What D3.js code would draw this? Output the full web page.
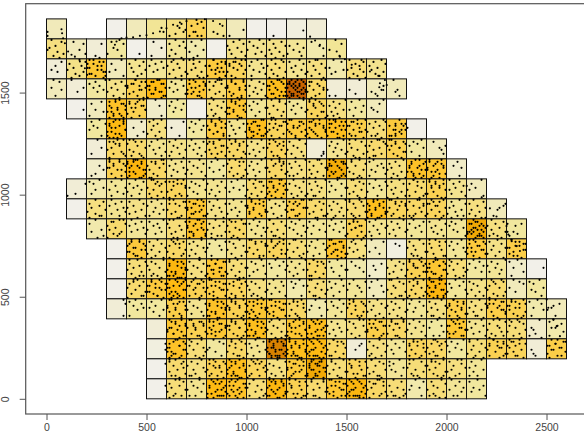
<!DOCTYPE html>
<html>
<head>
<meta charset="utf-8">
<script src="https://cdn.jsdelivr.net/npm/d3@7"></script>
<style>
  html, body { margin: 0; background: #fff; }
  svg { display: block; }
  text { font-family: "Liberation Sans", Arial, sans-serif; font-size: 10.5px; fill: #444; }
</style>
</head>
<body>
<svg id="chart" width="584" height="436"></svg>
<script>
var width = 584, height = 436;

// first column of each row of quadrats, top row first
var rowStart = [0, 0, 0, 0, 1, 2, 2, 2, 1, 1, 2, 3, 3, 3, 3, 5, 5, 5, 5];

// counts per quadrat
var rowCounts = [
  [5, null, null, 1, 5, 8, 11, 16, 9, 5, 1, 1, 2, 3],
  [11, 5, 3, 7, 1, 3, 8, 6, 1, 10, 9, 10, 8, 6, 8],
  [3, 10, 19, 5, 9, 8, 11, 12, 18, 15, 9, 12, 9, 11, 6, 12, 9],
  [5, 3, 7, 10, 16, 22, 8, 19, 13, 18, 10, 21, 36, 14, 3, 3, 5, 5],
  [1, 5, 20, 16, 4, 7, 1, 11, 19, 8, 12, 8, 15, 11, 7, 5],
  [7, 22, 4, 11, 3, 7, 18, 9, 21, 15, 18, 19, 21, 17, 12, 18, 1],
  [3, 14, 13, 9, 10, 9, 15, 14, 10, 15, 11, 3, 9, 12, 13, 16, 7, 5],
  [4, 16, 23, 14, 9, 9, 7, 13, 9, 14, 11, 12, 25, 12, 9, 11, 20, 19, 4],
  [3, 6, 8, 9, 14, 15, 9, 9, 7, 13, 19, 11, 11, 8, 12, 8, 11, 13, 16, 9, 5],
  [1, 11, 9, 10, 9, 14, 19, 10, 9, 18, 10, 17, 13, 11, 13, 21, 15, 14, 15, 8, 11, 5],
  [6, 13, 8, 8, 12, 20, 11, 14, 9, 12, 9, 8, 8, 16, 9, 9, 8, 9, 8, 26, 11, 7],
  [1, 18, 11, 14, 10, 7, 10, 14, 15, 12, 9, 20, 11, 5, 2, 11, 13, 8, 18, 10, 17],
  [1, 12, 11, 23, 11, 19, 12, 9, 7, 9, 14, 7, 6, 4, 10, 16, 19, 12, 7, 8, 4, 1],
  [1, 13, 18, 22, 16, 17, 15, 11, 9, 6, 12, 8, 8, 5, 12, 14, 23, 8, 10, 13, 5, 7],
  [3, 7, 7, 17, 9, 20, 16, 19, 18, 14, 6, 8, 15, 10, 10, 8, 11, 17, 11, 17, 16, 6, 5],
  [3, 19, 16, 19, 16, 21, 12, 19, 21, 9, 11, 17, 14, 9, 7, 19, 9, 12, 12, 4, 6],
  [2, 20, 12, 7, 14, 9, 32, 21, 22, 14, 3, 11, 8, 15, 14, 7, 12, 16, 15, 3, 17],
  [1, 13, 11, 16, 21, 15, 11, 18, 26, 12, 15, 12, 8, 12, 13, 11, 8],
  [1, 12, 9, 22, 20, 12, 23, 16, 13, 19, 23, 14, 12, 6, 12, 8, 7]
];

// dots per quadrat, same layout as rowCounts. each pair is x,y inside the cell in tenths
// from its top left. estimated by eye: sparse cells follow the picture, dense cells only roughly
var rowDots = [
  ["06 08","","","","","74 86","53 72 86 95 64 18 47","23 52 46 84 78 18 58 36 71","36 57 88","18 85","","38","",""],
  ["20 71 43 14 56 05 87 38 69","82 31 65 97","48 69 72","60 21 82 34 07 55 78","67","31 74 28","40 81 12 63 25 94 47 18 79","70 21 43 85 16 58 39","","31 82 03 54 15 76 27 98 49 60","60 11 82 33 54 05 76 47 98","10 71 32 93 44 15 66 27 88 49","52 13 84 35 66 07 78","63 21 88","40 72 15 68"],
  ["43 71 25 56","60 91 12 73 34 05 86 47 68 29","30 81 02 53 14 75 96 27 48 89 10 61 32 73 04 55 86 17 98","70 22 45 16 88","40 81 12 63 24 95 36 77 58","20 71 42 13 84 55 36","80 21 52 03 64 35 96 17 78 49 30","10 61 32 93 44 25 76 07 58 89 30 69","30 71 92 13 54 25 86 47 08 69 30 91 52 13 74 45 66 98","90 41 12 73 34 55 06 87 28 49 70 31 62 13 95","50 21 72 13 84 35 66 97 28","20 81 42 03 64 25 96 37 58 19 70 89","60 11 82 43 24 75 36 97 58","50 11 72 33 94 45 06 67 28 89 40","30 71 14 85 46 27","10 81 42 63 24 05 86 37 58 19 70 99","70 31 92 13 54 25 86 47 68"],
  ["30 61 24 75 48","20 84 56","90 41 12 63 34 85 56","10 71 42 93 24 55 06 87 38 69","40 91 22 63 04 75 36 17 58 89 40 71 32 03 94 65","60 21 82 03 44 15 76 37 98 09 50 31 72 13 94 45 66 27 88 09 50 79","70 21 42 83 14 55 36 97","30 81 12 93 44 05 66 27 58 79 10 41 92 63 24 85 36 07 68","50 11 72 33 94 15 66 47 88 29 70 41 60","80 21 42 03 64 95 16 37 78 59 20 81 42 93 04 65 28 79","20 61 82 13 44 75 36 57 18 98","60 21 82 03 44 15 96 37 68 09 50 71 32 13 94 55 76 27 88 49 98","04 63 27 81 45 12 96 38 70 54 19 87 32 66 08 75 41 23 92 58 16 84 37 69 02 50 28 77 43 95 11 62 34 89 56 20","70 21 52 13 84 35 06 67 48 29 90 11 63 85"," 18 05 48","15 47 60","58 47 26 83 75","46 68 55 30"],
  ["85","71 22 45 86 18","40 11 72 93 24 55 06 37 78 19 60 41 82 13 54 95 26 67 38 89","60 11 42 83 24 95 36 07 68 29 80 51 12 73 44 95","78 40 63","50 21 82 13 44 75 36","","30 81 12 53 74 25 96 47 08 69 38","60 21 42 83 04 35 96 17 58 79 20 41 92 63 14 85 36 07 69","70 31 52 13 94 25 66 48","20 61 92 33 04 55 86 17 78 39 60 29","80 11 52 33 74 25 96 47","10 61 32 83 44 05 76 27 58 99 40 11 72 33 86","90 31 62 13 44 85 26 57 08 69 38","60 21 83 44 15 76 38","62 24 35 80 56"],
  ["60 21 92 33 54 15 78","40 81 12 63 24 95 06 47 78 19 60 31 82 13 44 95 26 67 08 59 80 39","34 71 58 86","70 11 52 33 94 25 66 07 48 79 30","68 24 81","60 21 83 42 14 75 36","20 71 42 03 94 15 56 37 88 09 60 21 92 43 74 15 56 87","50 11 82 23 64 35 96 47 18","80 31 02 53 14 65 26 97 38 09 70 41 22 63 94 15 36 57 88 29 78","40 91 12 73 34 55 06 87 28 69 20 81 42 63 15","10 61 82 33 54 05 76 27 98 49 20 71 02 63 34 95 16 48","60 21 42 83 14 95 36 07 58 79 30 11 62 43 84 25 96 47 19","30 71 12 83 44 95 26 57 08 69 40 91 22 63 14 75 36 88 59 10 41","90 21 52 03 64 35 76 17 48 89 50 31 72 13 66 28 95","80 41 12 63 34 85 06 57 28 79 48 91","45 42 47 43 48 75 72 77 92 95 18 35 60 83 28 66 13","04"],
  ["50 74 27","80 11 42 63 24 05 76 37 98 19 50 31 62 87","30 71 02 53 94 15 36 67 28 89 10 41 78","50 21 82 13 64 35 96 47 78","40 11 72 33 54 95 26 67 18 89","20 81 42 13 64 35 96 57 78","60 31 02 83 44 15 76 27 98 49 60 11 32 73 57","40 81 22 63 04 55 16 97 38 79 10 41 62 86","70 21 52 03 84 35 66 17 48 99","30 81 12 53 04 75 26 97 38 69 10 41 62 83 58","60 11 92 33 54 05 76 27 88 49 60","87 78 86","80 21 52 13 44 75 36 97 58","40 71 12 93 24 55 06 87 38 69 10 49","50 21 92 13 64 35 06 77 48 19 60 81 38","20 81 42 03 64 15 96 37 58 79 10 41 92 23 64 86","70 31 52 13 84 26 68","64 87 93 75 31"],
  ["63 47 28 85","60 11 82 33 04 55 96 27 78 49 10 61 32 93 14 75","30 71 02 53 14 85 36 97 18 69 40 01 72 23 64 95 16 47 88 09 50 31 79","80 21 42 03 64 15 96 37 58 19 70 41 82 29","20 71 42 13 84 35 56 97 28","60 11 82 33 54 05 76 27 98","50 21 83 14 65 36 88","40 81 02 63 24 95 16 57 38 79 10 61 88","70 21 52 13 94 35 66 07 48","20 61 82 33 04 75 16 97 48 29 60 81 42 73","90 41 12 63 24 75 06 57 38 89 18","50 11 72 33 94 15 56 27 88 49 60 19","30 81 12 53 04 75 26 37 98 69 10 41 82 23 64 05 46 87 18 59 30 71 92 13 78","60 21 92 43 04 85 16 37 68 59 20 79","30 11 72 53 84 25 46 97 18","80 41 12 63 24 05 76 37 58 99 29","40 91 22 63 14 75 06 37 88 49 60 21 82 13 54 95 26 67 38 79","70 11 42 83 04 55 26 97 38 69 10 51 72 33 84 05 46 67 29","33 68 74 51"],
  ["08 47 92","60 11 32 84 45 27","70 21 43 94 15 56 28 87","40 81 12 53 34 75 06 67 28","20 91 42 63 04 35 76 17 58 89 30 51 72 29","50 11 72 33 94 25 06 67 48 19 80 31 52 93 78","80 21 42 63 14 95 36 57 08","30 71 02 53 94 25 66 17 48","50 21 83 34 65 16 98","10 61 32 83 44 05 76 27 58 99 40 71 19","60 21 92 33 04 55 16 87 28 49 70 11 62 83 34 95 46 07 79","30 81 12 43 64 05 76 27 98 58 39","90 41 12 53 74 25 66 07 38 89 48","50 11 72 23 94 45 16 78","20 61 82 43 04 75 36 17 58 99 30 69","40 91 12 63 34 75 06 58","60 21 82 03 44 25 76 37 98 09 59","30 81 12 53 74 05 46 97 18 69 30 51 88","80 11 42 63 24 95 36 07 58 79 10 41 82 23 64 99","10 61 32 83 44 15 76 27 98","70 22 44 15 88"],
  ["","40 81 12 63 24 95 06 47 78 19 68","20 71 42 13 84 55 96 27 68","60 11 82 33 04 75 46 17 98 59","50 21 72 03 44 85 36 67 18","30 81 12 63 94 05 46 27 78 59 10 91 42 69","70 11 42 83 24 05 66 37 98 19 50 81 32 63 04 75 46 27 88","50 11 92 33 64 25 76 07 48 89","30 71 12 93 44 25 66 07 58","60 21 42 83 04 35 96 17 78 49 20 81 62 03 34 95 16 67","10 81 42 63 24 95 06 37 78 59","70 11 32 53 94 25 06 67 48 19 80 41 62 03 84 35 58","20 61 82 43 04 75 36 17 98 59 10 49 88","90 31 52 13 74 25 66 07 48 88 39","60 11 32 83 44 05 96 27 68 49 10 71 38","30 81 02 63 44 15 96 27 78 09 50 31 62 13 84 45 06 97 28 69 59","20 71 42 93 14 55 06 37 88 69 10 41 92 63 28","50 11 82 33 64 05 76 47 18 98 29 60 83 38","80 31 02 53 94 25 66 07 48 79 20 61 12 43 88","60 21 92 33 14 75 46 07 88 29 58","30 81 12 53 94 25 66 17 48 79 99","83 55 38 64 92"],
  ["40 12 75 26 88 59","60 21 92 03 44 15 76 37 58 09 80 31 67","20 71 42 13 84 55 26 97","80 11 52 33 64 05 76 47","30 91 02 63 14 75 46 27 88 59 10 39","50 11 72 33 04 85 26 97 38 19 60 81 42 03 74 55 16 37 98 79","40 81 12 63 34 05 96 27 58 78 29","70 21 92 03 44 65 16 87 38 59 10 41 82 29","30 61 12 53 84 25 96 47 78","10 71 32 93 04 55 26 87 38 69 10 48","60 21 42 83 14 35 96 57 78","50 11 82 33 04 65 96 27","20 71 42 13 84 35 66 98","90 31 12 63 44 25 76 07 58 89 30 51 12 73 44 98","40 11 72 33 94 55 16 67 28","80 21 52 03 64 35 96 17 48","30 81 12 63 44 05 76 28","60 11 92 43 24 75 36 57 88","70 21 42 13 84 35 56 98","34 06 55 68 27 72 41 83 58 16 63 36 25 75 89 44 12 51 67 30 94 07 78 22 86 49","20 81 42 03 64 25 96 37 58 79 18","02 06 18 36 57 72 43"],
  ["","60 21 82 03 44 95 16 37 58 79 20 61 12 93 34 75 06 48","50 11 72 33 94 25 66 07 48 89 29","20 81 42 13 64 95 06 37 78 19 50 31 62 87","70 31 12 53 84 25 96 47 18 69","40 91 12 63 04 75 28","60 11 32 83 44 05 96 27 78 49","20 71 42 93 14 55 06 37 88 69 10 41 92 68","80 21 52 03 34 75 16 97 38 59 20 61 82 43 77","30 71 12 93 54 05 36 87 68 19 40 79","50 21 82 13 44 95 06 67 38","10 61 32 83 04 45 76 27 58 99 20 71 42 13 84 55 36 97 08 79","70 21 42 93 14 55 36 07 88 69 30","20 81 44 16 67","42 63","60 11 82 33 04 45 96 27 58 79 38","40 91 12 63 24 75 06 37 88 49 10 61 98","70 21 52 13 84 35 96 48","30 81 12 53 04 75 26 97 38 69 10 41 92 63 24 85 46 07","50 11 72 33 94 25 66 07 48 89","20 61 82 43 04 95 36 17 58 79 20 41 92 63 14 85 38"],
  ["","50 91 12 63 34 05 76 27 88 49 10 68","80 21 42 03 64 15 96 37 58 79 28","30 71 12 53 94 05 46 87 18 69 30 51 82 13 74 95 26 47 08 59 38 79 99","60 11 82 33 54 05 76 27 98 49 60","20 81 42 13 64 35 96 07 78 19 50 91 42 03 74 25 66 37 88","50 11 72 33 94 25 66 07 48 89 10 69","70 21 42 83 04 55 36 97 18","40 81 12 63 24 95 58","90 21 62 03 44 85 16 57 38","30 71 12 53 94 05 46 87 18 69 30 51 82 28","50 11 73 24 95 36 68","80 21 43 64 05 86","33 72 45 18","20 61 82 43 04 75 36 17 98 59","60 11 32 83 44 05 96 27 68 49 10 71 92 33 54 86","40 81 12 63 04 95 26 37 78 19 50 31 92 63 14 85 06 47 69","70 21 52 13 84 35 96 07 48 69 10 88","30 61 12 83 44 05 76","90 21 52 03 44 75 16 67","50 11 72 34 86 28","84"],
  ["","30 81 12 63 04 45 96 27 78 09 50 31 88","60 21 92 13 44 75 06 37 58 89 20 71 42 03 64 95 16 58","40 81 02 63 14 95 26 57 38 89 10 51 72 33 04 85 46 17 68 29 90 59","70 21 52 03 84 35 96 47 18 69 30 81 62 13 44 78","20 61 82 43 04 75 36 17 98 59 10 41 92 23 64 85 38","50 91 12 33 64 05 76 27 48 88 19 60 31 72 49","80 21 42 03 64 15 96 37 58 79 28","30 71 12 83 44 05 66 27 98","60 21 42 83 34 78","20 81 52 03 44 75 16 97 38 69 10 48","70 11 42 83 24 05 66 38","30 91 12 53 64 05 76 48","50 21 73 14 86 38","20 61 82 33 44 05 96 27 78 49 10 68","80 11 52 33 74 25 96 47 18 69 30 51 88 09","60 21 92 43 14 75 36 07 58 89 10 31 62 03 44 85 26 97 18 59 70 39 88","40 81 12 63 24 95 06 48","70 11 32 53 94 25 66 07 48 88","20 81 42 13 64 05 96 37 58 19 70 31 88","30 61 82 14 46","60 11 32 84 25 46 78"],
  ["88 92 80","40 11 72 33 84 55 18","70 21 43 14 85 36 68","20 81 52 03 44 95 16 67 38 79 10 61 32 93 04 45 78","60 11 92 33 54 05 76 27 88","30 71 12 53 94 05 46 87 18 69 30 51 82 13 74 95 26 47 08 59","80 21 42 03 64 15 96 37 58 79 20 41 92 63 14 88","50 11 72 33 94 25 06 67 48 19 80 31 52 03 74 95 36 17 59","20 61 82 43 04 75 36 17 98 59 10 41 92 23 64 85 06 38","70 31 12 53 84 25 96 47 18 69 30 51 82 58","40 91 23 64 15 78","60 21 82 33 54 05 76 48","30 71 12 93 04 45 86 27 58 69 10 31 82 43 78","50 11 72 33 94 25 06 67 48 89","80 21 42 03 64 35 96 17 58 79","20 61 12 83 44 05 36 78","70 11 42 93 24 55 06 87 38 69 28","30 81 12 53 04 75 46 97 18 69 30 51 82 13 74 25 58","60 21 92 43 14 75 36 07 58 89 48","40 71 12 63 04 85 26 97 38 59 10 81 32 03 54 75 96","80 21 62 03 44 15 96 37 58 79 20 41 92 13 64 88","50 11 72 34 85 28","05 24 33 48 62"],
  ["","70 21 42 93 14 55 06 37 88 69 10 41 92 63 24 05 76 37 98","20 61 82 33 04 45 96 27 58 79 10 71 32 83 44 68","50 11 72 33 94 25 66 07 48 89 10 31 62 93 14 75 46 27 98","80 21 42 03 64 15 96 37 58 79 20 41 92 13 64 88","30 71 12 53 94 05 46 87 18 69 30 51 82 13 74 25 96 47 08 59 38","60 11 82 33 54 05 76 27 98 49 20 79","40 81 12 63 24 95 06 47 78 19 60 31 82 13 44 95 26 67 08","20 71 42 13 84 55 96 27 68 09 50 31 62 93 14 75 46 07 88 39 58","90 21 52 03 64 35 76 17 48","60 11 32 83 44 05 96 27 68 49 80","40 71 12 93 24 55 06 87 38 69 10 61 32 83 44 05 78","80 21 52 13 64 35 96 07 48 69 20 81 42 58","30 61 12 83 44 05 76 27 98","50 21 73 14 86 38 68","20 81 42 13 64 95 06 37 78 19 50 31 62 03 74 95 46 17 88","70 11 42 83 24 05 66 37 98","30 91 12 53 64 05 76 27 48 88 19 60","50 21 82 13 44 95 06 67 38 79 10 61","60 24 35 18 47 79","30 11 72 53 24 86 18 44"],
  ["92 95","40 81 12 63 04 95 26 37 78 19 50 31 92 63 14 85 06 47 69 28","70 21 52 13 84 35 96 07 48 69 10 88","30 61 82 14 46 05 78","60 21 92 13 44 75 06 37 58 89 20 71 42 68","40 81 12 53 24 95 66 07 38","20 51 82 33 04 65 46 17 98 59 10 71 32 93 24 45 06 87 68 29 50 11 83 34 75 96 17 48 69 90 28 58","80 11 42 63 24 95 36 07 58 79 10 41 82 23 64 05 96 37 48 69 28","50 21 72 03 84 35 16 97 48 69 10 61 32 93 44 25 76 07 58 89 18 38","30 71 12 53 94 05 46 87 18 69 30 51 82 28","63 45 72","60 11 82 33 54 05 96 27 78 49 18","20 81 42 03 64 25 96 37","70 31 12 53 84 25 96 47 18 69 30 51 82 13 78","40 91 22 63 04 75 36 17 58 89 30 51 72 48","80 21 52 03 44 75 16","50 11 72 33 94 25 66 07 48 89 10 39","30 81 12 53 74 05 46 97 18 69 30 51 82 13 64 88","60 21 92 43 14 75 36 07 58 89 10 31 62 03 48","37 48 25","20 81 42 13 64 35 96 07 78 19 50 91 42 03 74 25 58"],
  ["92","40 11 72 33 84 55 16 97 28 69 10 81 48","70 21 52 03 84 35 96 47 18 69 28","30 81 12 63 44 05 76 27 58 89 10 41 92 33 64 18","60 21 42 83 14 95 36 07 58 79 10 41 82 23 64 05 96 37 48 69 28","20 71 42 13 84 55 96 27 68 09 50 31 62 93 18","50 91 12 33 64 05 76 27 48 88 19","70 11 42 83 24 05 66 37 98 19 50 81 32 63 04 75 46 28","30 61 12 53 84 25 96 47 08 39 70 21 52 13 94 35 66 07 48 89 20 71 42 63 14 58","80 21 42 03 64 35 96 17 58 79 20 69","40 91 12 63 24 75 06 37 88 49 10 61 98 23 57","20 61 82 43 04 95 36 17 58 79 20 68","60 11 32 84 25 46 78 13","30 71 12 93 04 45 86 27 58 69 10 38","80 21 62 03 44 15 96 37 58 79 20 41 88","50 11 72 33 94 25 06 67 48 19 70","70 21 43 14 85 36 58 18"],
  ["93","40 81 12 63 24 95 06 47 78 19 60 38","60 21 82 33 54 05 76 48 18","20 71 42 13 84 55 96 27 68 09 50 31 62 93 14 75 46 07 88 39 58 78","50 11 92 33 64 25 76 07 48 89 20 41 82 13 94 55 36 67 18 59","30 81 12 53 04 75 46 97 18 69 30 88","70 21 42 83 04 55 36 97 18 69 10 41 82 13 64 25 96 47 08 59 30 71 88","40 91 12 63 24 75 06 37 88 49 10 61 98 23 57 79","80 21 52 03 64 35 96 07 48 69 20 81 38","20 61 82 43 04 75 36 17 98 59 10 41 92 23 64 85 06 38 78","50 21 72 03 84 35 16 97 48 69 10 61 32 93 44 25 76 07 58 89 18 38 68","60 11 42 83 24 05 96 37 68 19 50 81 32 77","30 71 13 54 85 26 97 48 08 69 38 88","40 81 23 64 15 78","70 21 92 33 54 05 86 37 18 69 48 99","20 61 43 84 15 76 38 58","50 11 83 34 65 26 98"]
];

// dots along the tracks that show as chains, x,y pairs in plot units
var trackPairs = [
  342,1734, 350,1750, 375,1766, 400,1770, 433,1771, 467,1778, 500,1781, 533,1791, 567,1799, 600,1815, 633,1832, 667,1843, 700,1850, 750,1856, 792,1859, 833,1851, 867,1836, 880,1827,
  75,1810, 78,1791, 83,1766, 92,1742, 108,1701, 125,1685, 142,1676, 167,1652, 192,1619, 203,1587,
  1284,1804, 1318,1774, 1343,1755, 1367,1734, 1384,1717, 1451,1701, 1467,1676, 1492,1663, 1526,1636, 1567,1614, 1617,1603, 1659,1582, 1692,1562, 1701,1537, 1684,1513, 1664,1526, 1667,1546,
  2217,933, 2250,893, 2101,1043, 2176,987,
  2300,846, 2309,805, 2326,772, 2351,748, 2367,724,
  2501,487, 2509,446, 2534,389, 2551,356, 2567,307
];

var xTicks = [0, 500, 1000, 1500, 2000, 2500];
var yTicks = [0, 500, 1000, 1500];

// fill colour stops for the counts
var countStops = [0, 3, 7, 12, 17, 22, 28, 36];
var countColors = ["#f2f2f2", "#f1edd6", "#f1e79e", "#f6dd78", "#fbce48", "#feba12", "#eaa000", "#c86400"];

var cellW = 100, cellH = 1861 / 19;

var x = d3.scaleLinear().domain([-104, 2704]).range([25.7, 587.3]);
var y = d3.scaleLinear().domain([-74.4, 1935.4]).range([414, 3.7]);
var color = d3.scaleLinear().domain(countStops).range(countColors);

var svg = d3.select("#chart");

// flatten rows into cells and dots
var cells = [];
var dots = [];
rowCounts.forEach((row, r) => {
  row.forEach((n, i) => {
    if (n === null) return;
    var col = rowStart[r] + i;
    cells.push({ col: col, row: r, n: n });
    (rowDots[r][i] || "").split(" ").filter(p => p).forEach(p => {
      dots.push([
        (col + (+p[0] + 0.5) / 10) * cellW,
        1861 - (r + (+p[1] + 0.5) / 10) * cellH
      ]);
    });
  });
});
for (var k = 0; k < trackPairs.length; k += 2) dots.push([trackPairs[k], trackPairs[k + 1]]);

svg.append("g")
  .selectAll("rect")
  .data(cells)
  .enter()
  .append("rect")
    .attr("x", d => x(d.col * cellW))
    .attr("y", d => y(1861 - d.row * cellH))
    .attr("width", x(cellW) - x(0))
    .attr("height", y(0) - y(cellH))
    .attr("fill", d => color(d.n))
    .attr("stroke", "#111")
    .attr("stroke-width", 1);

svg.append("g")
  .selectAll("circle")
  .data(dots)
  .enter()
  .append("circle")
    .attr("cx", d => x(d[0]))
    .attr("cy", d => y(d[1]))
    .attr("r", 1.05)
    .attr("fill", "#000");

// box
svg.append("rect")
  .attr("x", x.range()[0])
  .attr("y", y.range()[1])
  .attr("width", x.range()[1] - x.range()[0])
  .attr("height", y.range()[0] - y.range()[1])
  .attr("fill", "none")
  .attr("stroke", "#555")
  .attr("stroke-width", 1.2);

// axes
var xAxis = svg.append("g")
  .attr("transform", `translate(0, ${y.range()[0]})`)
  .call(d3.axisBottom(x).tickValues(xTicks).tickFormat(d3.format("d")).tickSize(6).tickPadding(4));
var yAxis = svg.append("g")
  .attr("transform", `translate(${x.range()[0]}, 0)`)
  .call(d3.axisLeft(y).tickValues(yTicks).tickFormat(d3.format("d")).tickSize(6).tickPadding(4));
xAxis.select(".domain").remove();
yAxis.select(".domain").remove();
svg.selectAll(".tick line").attr("stroke", "#555");
yAxis.selectAll("text")
  .attr("transform", "rotate(-90)")
  .attr("text-anchor", "middle")
  .attr("x", 0)
  .attr("y", -17)
  .attr("dy", 0);
</script>
</body>
</html>
